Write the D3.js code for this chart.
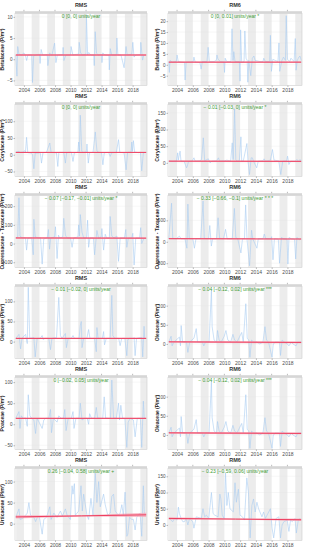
<!DOCTYPE html>
<html>
<head>
<meta charset="utf-8">
<script src="https://cdn.jsdelivr.net/npm/d3@7"></script>
<style>
  body { margin: 0; background: #fff; }
  svg { display: block; }
  text { font-family: "Liberation Sans", Arial, sans-serif; }
</style>
</head>
<body>
<div id="chart"></div>
<script>
// alternating shaded years and axis ticks
const bandYears = [2003, 2005, 2007, 2009, 2011, 2013, 2015, 2017, 2019];
const xTicks = [2004, 2006, 2008, 2010, 2012, 2014, 2016, 2018];

// series: [year, pollen]
const betRMS = [[2002.95,1],[2003.1,-4],[2003.2,3],[2003.35,1.2],[2003.7,1],[2004.0,1.5],[2004.2,0.8],[2004.35,-0.3],[2004.5,1],[2005.0,1],[2005.1,-5.5],[2005.25,0.8],[2005.6,1],[2006.0,1.2],[2006.08,-1],[2006.22,2.3],[2006.4,1],[2007.0,1.1],[2007.08,-1.5],[2007.3,1.5],[2007.6,0.9],[2007.95,3.8],[2008.12,-0.8],[2008.3,1],[2009.0,1.1],[2009.05,2.8],[2009.15,-0.3],[2009.4,1],[2010.0,1],[2010.07,3],[2010.3,1],[2010.5,1.1],[2011.05,1.2],[2011.12,4],[2011.3,1.5],[2011.5,1],[2012.0,1.2],[2012.05,10.5],[2012.2,1],[2012.35,1.6],[2012.6,1],[2013.0,1],[2013.06,-1.5],[2013.18,6.5],[2013.35,1.4],[2013.6,1],[2014.0,1.1],[2014.05,-0.8],[2014.15,1.5],[2014.4,1],[2014.95,0.9],[2015.0,-2.5],[2015.12,2.5],[2015.3,1],[2015.9,1],[2015.97,5],[2016.1,1],[2016.5,1],[2016.9,-2],[2017.15,3],[2017.3,1],[2017.9,1.2],[2018.02,4],[2018.18,0.5],[2018.4,1],[2019.0,1.1],[2019.05,4],[2019.28,-0.2],[2019.45,1]];
const betRM6 = [[2002.95,1.5],[2003.02,-3.5],[2003.1,2],[2003.4,1.2],[2003.9,1.5],[2004.0,4.5],[2004.15,1.5],[2004.6,1.2],[2004.95,1],[2005.02,-7],[2005.15,1.2],[2005.7,1.3],[2006.05,1.5],[2006.14,3.5],[2006.3,1.2],[2006.9,1],[2007.06,-2],[2007.2,1.5],[2007.8,1.5],[2007.94,8],[2008.1,1.5],[2008.7,1.5],[2008.98,2],[2009.06,4.5],[2009.2,2.5],[2009.5,1.5],[2009.95,1.2],[2010.02,-3.5],[2010.1,3],[2010.3,1.5],[2010.85,1.5],[2010.97,16.5],[2011.1,2],[2011.2,6],[2011.35,1.5],[2011.9,1.5],[2011.99,-7.5],[2012.06,16],[2012.2,1],[2012.5,1.5],[2012.6,15.5],[2012.75,3],[2012.9,2],[2012.98,-8],[2013.1,2],[2013.35,-5],[2013.55,3],[2013.75,4],[2013.9,2],[2014.5,1.5],[2014.9,1.5],[2015.0,3],[2015.2,1.5],[2015.75,1.5],[2015.84,13.5],[2015.97,-3],[2016.15,2.5],[2016.45,2],[2016.8,1.5],[2016.93,10],[2017.02,-3],[2017.3,2],[2017.5,3.5],[2017.75,2],[2017.85,22.5],[2018.0,2.5],[2018.3,1.5],[2018.45,3],[2018.85,1.5],[2019.0,12],[2019.1,-2.5],[2019.25,2],[2019.45,3.5],[2019.6,4],[2019.75,2]];
const coryRMS = [[2002.95,8],[2003.36,10],[2003.5,7],[2003.9,8],[2004.09,12],[2004.2,7],[2004.34,52],[2004.5,6],[2004.9,5],[2005.11,0],[2005.28,-42],[2005.45,5],[2005.92,5],[2006.1,7],[2006.26,-25],[2006.45,6],[2006.9,7],[2007.33,35],[2007.5,7],[2008.0,6],[2008.19,5],[2008.36,-35],[2008.5,7],[2009.13,7],[2009.34,-25],[2009.5,6],[2010.1,8],[2010.32,-20],[2010.5,6],[2010.95,7],[2011.05,38],[2011.15,10],[2011.26,118],[2011.45,10],[2011.6,7],[2012.03,8],[2012.12,32],[2012.2,5],[2012.29,-25],[2012.45,6],[2012.9,7],[2013.19,68],[2013.4,12],[2013.6,7],[2014.0,6],[2014.17,-30],[2014.35,6],[2014.9,7],[2015.11,-5],[2015.3,6],[2015.9,7],[2016.18,45],[2016.35,7],[2016.9,6],[2017.16,-45],[2017.35,7],[2017.8,8],[2017.89,38],[2017.97,10],[2018.1,42],[2018.25,8],[2018.8,6],[2019.0,8],[2019.17,-48],[2019.38,5],[2019.5,6]];
const coryRM6 = [[2002.95,5],[2003.5,4],[2003.9,5],[2004.08,30],[2004.15,8],[2004.38,35],[2004.5,5],[2004.9,4],[2005.2,-15],[2005.3,-10],[2005.45,4],[2005.9,5],[2006.14,15],[2006.3,5],[2006.9,6],[2007.1,10],[2007.33,75],[2007.5,6],[2007.97,12],[2008.2,0],[2008.4,5],[2009.0,6],[2009.25,15],[2009.4,5],[2010.0,6],[2010.32,8],[2010.8,5],[2011.0,60],[2011.12,10],[2011.3,162],[2011.45,10],[2011.6,5],[2011.9,6],[2012.1,78],[2012.2,5],[2012.4,5],[2012.86,58],[2013.0,5],[2013.19,-35],[2013.4,15],[2013.55,15],[2013.7,5],[2014.1,-15],[2014.3,5],[2014.9,6],[2015.04,12],[2015.2,5],[2015.85,8],[2016.1,40],[2016.3,8],[2016.9,6],[2017.16,-35],[2017.4,5],[2017.9,6],[2018.02,20],[2018.19,-5],[2018.4,5],[2019.0,5],[2019.2,10],[2019.4,4],[2019.6,10],[2019.75,5]];
const cupRMS = [[2002.95,30],[2003.2,35],[2003.36,245],[2003.49,40],[2003.8,30],[2004.2,30],[2004.34,-35],[2004.5,28],[2005.0,30],[2005.2,-60],[2005.28,130],[2005.45,35],[2005.9,30],[2006.14,30],[2006.35,-110],[2006.55,25],[2007.0,30],[2007.15,75],[2007.3,-30],[2007.45,30],[2007.95,35],[2008.06,90],[2008.27,-80],[2008.45,45],[2008.6,30],[2009.0,35],[2009.13,135],[2009.34,45],[2009.55,30],[2010.0,30],[2010.2,-20],[2010.4,30],[2010.95,35],[2011.05,100],[2011.15,40],[2011.26,155],[2011.48,60],[2011.7,30],[2012.05,30],[2012.2,125],[2012.33,-20],[2012.5,30],[2012.95,30],[2013.1,-60],[2013.4,70],[2013.6,30],[2013.95,35],[2014.04,80],[2014.26,-35],[2014.47,50],[2014.65,30],[2015.0,30],[2015.11,145],[2015.32,40],[2015.6,30],[2015.97,40],[2016.18,-95],[2016.4,30],[2016.95,30],[2017.12,75],[2017.25,-20],[2017.45,30],[2017.9,30],[2018.02,55],[2018.19,-115],[2018.4,30],[2018.9,30],[2019.04,85],[2019.17,0],[2019.47,30]];
const cupRM6 = [[2002.95,70],[2003.3,900],[2003.45,80],[2003.9,70],[2004.3,130],[2004.5,70],[2005.0,70],[2005.25,-150],[2005.37,880],[2005.55,70],[2006.0,70],[2006.2,-150],[2006.4,70],[2007.0,70],[2007.3,950],[2007.45,80],[2008.0,70],[2008.15,380],[2008.35,-100],[2008.5,70],[2009.0,70],[2009.2,560],[2009.4,80],[2009.9,70],[2010.15,290],[2010.35,70],[2011.0,70],[2011.27,780],[2011.45,100],[2011.7,70],[2012.1,-260],[2012.3,70],[2012.55,70],[2012.7,860],[2012.88,50],[2013.2,-560],[2013.45,270],[2013.6,70],[2014.13,-150],[2014.3,70],[2014.9,70],[2015.07,180],[2015.25,70],[2015.9,70],[2016.0,120],[2016.17,-420],[2016.35,70],[2016.85,60],[2017.0,-500],[2017.25,100],[2017.5,70],[2017.95,60],[2018.06,-520],[2018.2,100],[2018.5,70],[2018.9,60],[2019.05,-400],[2019.2,100],[2019.5,50],[2019.7,60]];
const oleRMS = [[2002.95,8],[2003.36,18],[2003.57,-18],[2003.75,8],[2004.21,18],[2004.43,-5],[2004.56,135],[2004.75,8],[2005.28,10],[2005.45,-38],[2005.7,8],[2006.1,8],[2006.35,15],[2006.48,5],[2006.7,8],[2007.2,8],[2007.42,-20],[2007.6,8],[2008.2,10],[2008.49,110],[2008.7,15],[2008.9,8],[2009.34,20],[2009.47,-15],[2009.7,8],[2010.1,8],[2010.32,15],[2010.5,8],[2011.1,8],[2011.26,40],[2011.39,50],[2011.48,-15],[2011.7,8],[2012.1,8],[2012.33,30],[2012.5,8],[2013.1,8],[2013.32,-25],[2013.4,35],[2013.55,8],[2014.1,8],[2014.26,25],[2014.38,-8],[2014.6,8],[2015.1,8],[2015.32,115],[2015.45,15],[2015.7,8],[2016.2,8],[2016.39,-10],[2016.6,8],[2017.0,8],[2017.25,-35],[2017.38,5],[2017.6,8],[2018.1,8],[2018.19,10],[2018.32,-35],[2018.5,8],[2019.0,10],[2019.17,10],[2019.3,-38],[2019.47,38],[2019.55,8]];
const oleRM6 = [[2002.95,5],[2003.24,20],[2003.37,-5],[2003.6,5],[2004.3,18],[2004.43,-5],[2004.52,48],[2004.7,5],[2005.2,5],[2005.37,-22],[2005.6,5],[2006.14,15],[2006.43,40],[2006.6,5],[2007.0,5],[2007.2,5],[2007.39,-5],[2007.6,5],[2008.06,5],[2008.36,140],[2008.45,45],[2008.7,10],[2009.0,5],[2009.13,35],[2009.34,10],[2009.6,5],[2009.98,20],[2010.2,35],[2010.45,10],[2010.8,5],[2011.09,25],[2011.3,10],[2011.6,5],[2012.2,30],[2012.4,5],[2012.72,105],[2012.9,15],[2013.1,10],[2013.24,-35],[2013.45,10],[2013.7,5],[2014.1,5],[2014.5,0],[2014.9,5],[2015.15,45],[2015.35,10],[2015.6,5],[2016.05,-35],[2016.2,0],[2016.5,5],[2017.0,5],[2017.12,-30],[2017.33,10],[2017.6,5],[2018.0,0],[2018.19,-5],[2018.5,5],[2018.7,0],[2019.1,-5],[2019.3,5],[2019.5,5],[2019.75,5]];
const poaRMS = [[2002.95,14],[2003.36,30],[2003.49,-10],[2003.66,20],[2003.9,14],[2004.21,15],[2004.43,-5],[2004.56,70],[2004.77,20],[2005.0,14],[2005.28,10],[2005.5,-22],[2005.7,14],[2006.35,-10],[2006.56,10],[2006.8,14],[2007.2,14],[2007.42,35],[2007.55,-20],[2007.8,14],[2008.27,5],[2008.49,20],[2008.8,14],[2009.1,14],[2009.26,35],[2009.43,-15],[2009.7,14],[2010.1,14],[2010.32,30],[2010.45,-10],[2010.7,14],[2011.1,14],[2011.26,50],[2011.48,10],[2011.8,14],[2012.15,14],[2012.33,0],[2012.46,25],[2012.7,14],[2013.1,14],[2013.32,40],[2013.49,15],[2013.9,14],[2014.15,14],[2014.34,65],[2014.51,15],[2014.9,14],[2015.15,14],[2015.32,105],[2015.54,15],[2015.9,14],[2016.18,50],[2016.31,10],[2016.48,45],[2016.7,14],[2017.0,14],[2017.25,-55],[2017.42,5],[2017.7,14],[2018.1,10],[2018.32,-30],[2018.6,14],[2019.0,14],[2019.17,-55],[2019.38,55],[2019.5,14]];
const urtRMS = [[2002.95,15],[2003.36,35],[2003.5,10],[2003.8,12],[2004.21,20],[2004.43,25],[2004.64,50],[2004.85,20],[2005.28,15],[2005.5,5],[2005.8,18],[2006.0,15],[2006.35,-25],[2006.56,10],[2006.9,15],[2007.33,40],[2007.5,10],[2007.85,25],[2008.27,15],[2008.7,30],[2008.95,18],[2009.34,35],[2009.56,20],[2009.98,10],[2010.2,90],[2010.32,70],[2010.5,95],[2010.62,20],[2011.05,30],[2011.35,90],[2011.52,30],[2011.69,70],[2012.12,20],[2012.33,10],[2012.63,60],[2012.9,20],[2013.19,120],[2013.4,50],[2013.62,100],[2013.83,40],[2014.26,70],[2014.47,45],[2014.8,20],[2015.11,25],[2015.32,65],[2015.54,70],[2015.75,30],[2016.18,20],[2016.39,25],[2016.61,45],[2016.8,20],[2017.03,75],[2017.25,-30],[2017.38,-25],[2017.6,15],[2017.89,10],[2018.1,10],[2018.32,-15],[2018.53,15],[2018.96,25],[2019.17,-30],[2019.38,90],[2019.51,20]];
const urtRM6 = [[2003.02,20],[2003.23,15],[2003.45,10],[2003.66,20],[2004.0,15],[2004.17,55],[2004.3,35],[2004.51,20],[2004.73,10],[2004.94,10],[2005.15,20],[2005.37,0],[2005.58,20],[2006.0,10],[2006.14,-10],[2006.44,25],[2007.08,20],[2007.29,50],[2007.5,25],[2007.72,30],[2008.02,20],[2008.36,100],[2008.57,35],[2008.79,30],[2009.21,25],[2009.43,95],[2009.56,80],[2009.73,30],[2009.98,20],[2010.15,160],[2010.32,60],[2010.5,100],[2010.71,50],[2011.14,40],[2011.35,130],[2011.52,70],[2011.78,110],[2011.99,30],[2012.29,25],[2012.55,15],[2012.85,145],[2013.06,100],[2013.27,-40],[2013.49,60],[2013.7,80],[2013.91,40],[2014.13,70],[2014.34,50],[2014.77,25],[2014.98,40],[2015.2,20],[2015.84,50],[2016.05,-10],[2016.26,-40],[2016.56,20],[2016.91,25],[2017.12,-40],[2017.33,0],[2017.55,10],[2017.97,15],[2018.19,-20],[2018.4,15],[2018.62,10],[2018.96,20],[2019.13,-25],[2019.38,15],[2019.56,20]];

// fitted trend: [year, lower, fit, upper]
const trendBetRMS = [[2002.95,0.8,1,1.2],[2019.75,0.8,1,1.2]];
const trendBetRM6 = [[2002.95,0.9,1.2,1.5],[2019.75,0.9,1.2,1.5]];
const trendCoryRMS = [[2002.95,5.5,7,8.5],[2019.75,5.5,7,8.5]];
const trendCoryRM6 = [[2002.95,3,5,7],[2019.75,2.5,4.5,6.5]];
const trendCupRMS = [[2002.95,26,30,34],[2019.75,24,29,33]];
const trendCupRM6 = [[2002.95,58,72,86],[2019.75,52,66,80]];
const trendOleRMS = [[2002.95,6.5,8,9.5],[2019.75,6.5,8,9.5]];
const trendOleRM6 = [[2002.95,3,5.5,8],[2019.75,1.5,4,6.5]];
const trendPoaRMS = [[2002.95,12.5,14,15.5],[2019.75,12.5,14,15.5]];
const trendUrtRMS = [[2002.95,12,16,20],[2011.4,17,18.5,20],[2019.75,16,21,26]];
const trendUrtRM6 = [[2002.95,16,20,24],[2011.4,16.5,18,19.5],[2019.75,12,16,20]];

const panelTitles = ["RMS", "RM6"];
const yTitles = ["Betulaceae (P/m³)", "Corylaceae (P/m³)", "Cupressaceae - Taxaceae (P/m³)", "Oleaceae (P/m³)", ["Poaceae (P/m³)", "Oleaceae (P/m³)"], "Urticaceae (P/m³)"];
const notes = [
  ["0 [0, 0] units/year", "0 [0, 0.01] units/year *"],
  ["0 [0, 0] units/year", "− 0.01 [−0.03, 0] units/year *"],
  ["− 0.07 [−0.17, −0.01] units/year *", "− 0.33 [−0.66, −0.1] units/year * * *"],
  ["− 0.01 [−0.02, 0] units/year", "− 0.04 [−0.12, 0.02] units/year ***"],
  ["0 [−0.02, 0.05] units/year", "− 0.04 [−0.12, 0.02] units/year ***"],
  ["0.26 [−0.04, 0.58] units/year +", "− 0.23 [−0.59, 0.06] units/year"]
];
const seriesGrid = [
  [betRMS, betRM6], [coryRMS, coryRM6], [cupRMS, cupRM6],
  [oleRMS, oleRM6], [poaRMS, oleRM6], [urtRMS, urtRM6]
];
const trendGrid = [
  [trendBetRMS, trendBetRM6], [trendCoryRMS, trendCoryRM6], [trendCupRMS, trendCupRM6],
  [trendOleRMS, trendOleRM6], [trendPoaRMS, trendOleRM6], [trendUrtRMS, trendUrtRM6]
];
const yTickGrid = [
  [[-5, 0, 5, 10], [-5, 0, 5, 10, 15, 20]],
  [[-50, 0, 50, 100], [0, 50, 100, 150]],
  [[-100, 0, 100, 200], [-500, 0, 500]],
  [[0, 50, 100], [0, 50, 100]],
  [[-50, 0, 50, 100], [0, 50, 100]],
  [[0, 50, 100], [0, 50, 100, 150]]
];
const yDomainGrid = [
  [[-6.2, 10.8], [-9.5, 23.5]],
  [[-65, 150], [-41, 175]],
  [[-128, 257], [-600, 1080]],
  [[-42, 137], [-38, 150]],
  [[-60, 111], [-38, 150]],
  [[-40, 131], [-48, 174]]
];

const W = 309, H = 550;
const rowStep = 91;
const colPlot = [[15, 147], [168, 302]];
const colLeft = [0, 155];

const svg = d3.select("#chart").append("svg")
  .attr("width", W).attr("height", H);

seriesGrid.forEach((row, r) => {
  row.forEach((series, c) => {
    const top = r * rowStep;
    const pTop = top + 13.5, pBot = top + 85.5;
    const [pL, pR] = colPlot[c];

    const x = d3.scaleLinear().domain([2002.85, 2019.85]).range([pL, pR]);
    const y = d3.scaleLinear().domain(yDomainGrid[r][c]).range([pBot, pTop]);

    const g = svg.append("g");
    const clipId = `clip-${r}-${c}`;
    g.append("clipPath").attr("id", clipId)
      .append("rect").attr("x", pL).attr("y", pTop).attr("width", pR - pL).attr("height", pBot - pTop);

    const inner = g.append("g").attr("clip-path", `url(#${clipId})`);
    inner.append("rect").attr("x", pL).attr("y", pTop).attr("width", pR - pL).attr("height", pBot - pTop)
      .attr("fill", "#fff");
    inner.selectAll(".band").data(bandYears).enter().append("rect")
      .attr("x", d => x(d)).attr("width", d => x(d + 1) - x(d))
      .attr("y", pTop).attr("height", pBot - pTop)
      .attr("fill", "#ececec");
    inner.selectAll(".grid").data(yTickGrid[r][c]).enter().append("line")
      .attr("x1", pL).attr("x2", pR)
      .attr("y1", d => y(d)).attr("y2", d => y(d))
      .attr("stroke", "#e4e4e4").attr("stroke-width", 0.3);

    inner.append("path")
      .datum(series)
      .attr("fill", "none")
      .attr("stroke", "#a9cdf2")
      .attr("stroke-width", 0.6)
      .attr("d", d3.line().x(d => x(d[0])).y(d => y(d[1])));

    const trend = trendGrid[r][c];
    inner.append("path").datum(trend)
      .attr("fill", "#f6a3b3").attr("opacity", 0.7)
      .attr("d", d3.area().x(d => x(d[0])).y0(d => y(d[1])).y1(d => y(d[3])));
    inner.append("path").datum(trend)
      .attr("fill", "none").attr("stroke", "#ee3d5e").attr("stroke-width", 1)
      .attr("d", d3.line().x(d => x(d[0])).y(d => y(d[2])));

    g.append("rect").attr("x", pL).attr("y", pTop).attr("width", pR - pL).attr("height", pBot - pTop)
      .attr("fill", "none").attr("stroke", "#c4c4c4").attr("stroke-width", 0.5);

    // thin strip and top ticks
    g.append("rect").attr("x", pL).attr("y", top + 11.2).attr("width", pR - pL).attr("height", 2.3)
      .attr("fill", "#d6d6d6");
    g.selectAll(".ttick").data(xTicks).enter().append("line")
      .attr("x1", d => x(d)).attr("x2", d => x(d))
      .attr("y1", top + 9.8).attr("y2", top + 11.2)
      .attr("stroke", "#555").attr("stroke-width", 0.4);

    // x axis
    const xAxis = g.append("g").attr("transform", `translate(0,${pBot})`)
      .call(d3.axisBottom(x).tickValues(xTicks).tickFormat(d3.format("d")).tickSize(1.5).tickPadding(1));
    xAxis.select(".domain").remove();
    xAxis.selectAll("line").attr("stroke", "#555").attr("stroke-width", 0.4);
    xAxis.selectAll("text").attr("font-size", 5).attr("fill", "#4d4d4d");

    // y axis
    const yAxis = g.append("g").attr("transform", `translate(${pL},0)`)
      .call(d3.axisLeft(y).tickValues(yTickGrid[r][c]).tickSize(1.5).tickPadding(1)
        .tickFormat(d => d < 0 ? "−" + Math.abs(d) : d));
    yAxis.select(".domain").remove();
    yAxis.selectAll("line").attr("stroke", "#555").attr("stroke-width", 0.4);
    yAxis.selectAll("text").attr("font-size", 4.6).attr("fill", "#4d4d4d");

    const yt = Array.isArray(yTitles[r]) ? yTitles[r][c] : yTitles[r];
    g.append("text")
      .attr("transform", `translate(${colLeft[c] + 4.2},${(pTop + pBot) / 2}) rotate(-90)`)
      .attr("text-anchor", "middle")
      .attr("font-size", 5).attr("font-weight", "bold").attr("fill", "#222")
      .text(yt);

    g.append("text")
      .attr("x", (pL + pR) / 2).attr("y", top + 7)
      .attr("text-anchor", "middle")
      .attr("font-size", 5.5).attr("font-weight", "bold").attr("fill", "#333")
      .text(panelTitles[c]);

    g.append("text")
      .attr("x", (pL + pR) / 2).attr("y", top + 18)
      .attr("text-anchor", "middle")
      .attr("font-size", 5).attr("fill", "#3f9c35")
      .text(notes[r][c]);
  });
});
</script>
</body>
</html>
